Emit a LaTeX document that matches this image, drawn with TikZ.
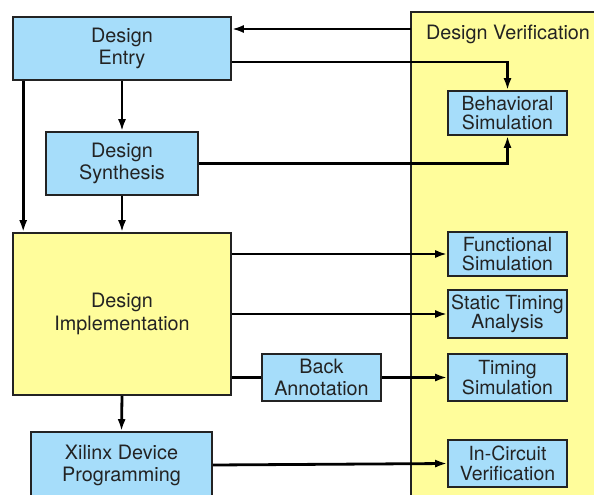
\documentclass[tikz,border=0pt]{standalone}
\usepackage{fontspec}
\setmainfont{TeX Gyre Heros}
\usetikzlibrary{arrows.meta}
\definecolor{boxblue}{HTML}{A6DDFA}
\definecolor{boxyellow}{HTML}{FFFD9B}
\definecolor{inkgray}{HTML}{232323}
\begin{document}
\begin{tikzpicture}[x=1pt, y=-1pt,
  stage/.style={draw=inkgray, line width=1.6pt, fill=boxblue, align=center,
    inner sep=0pt, text=inkgray, font=\fontsize{19.8}{22}\selectfont},
  bigstage/.style={stage, fill=boxyellow, font=\fontsize{19.8}{23}\selectfont},
  check/.style={stage, font=\fontsize{19.5}{19.5}\selectfont,
    minimum width=119pt},
  flow/.style={draw=black, line width=2.8pt, -{Latex[length=12pt,width=8pt]}},
  link/.style={draw=black, line width=2.8pt}]
  \useasboundingbox (0,0) rectangle (594,495);
  % verification panel
  \node[draw=inkgray, line width=1.6pt, fill=boxyellow, inner sep=0pt,
    minimum width=190pt, minimum height=490pt] (verif) at (506,257) {};
  \node[text=inkgray, font=\fontsize{19.8}{22}\selectfont] (vtitle) at (508,34) {Design Verification};
  % design flow
  \node[stage, minimum width=218pt, minimum height=63pt] (entry) at (122,48.5) {Design\\Entry};
  \node[stage, minimum width=152pt, minimum height=63pt] (synth) at (122,163.5) {Design\\Synthesis};
  \node[bigstage, minimum width=218pt, minimum height=162pt] (impl) at (122,314) {Design\\Implementation};
  \node[stage, minimum width=181pt, minimum height=66pt] (prog) at (121.5,465) {Xilinx Device\\Programming};
  \node[stage, minimum width=119pt, minimum height=47pt] (back) at (321.5,377.5) {Back\\Annotation};
  % checks
  \node[check, minimum height=44pt] (behav) at (507.5,113) {Behavioral\\Simulation};
  \node[check, minimum height=44pt] (func) at (507.5,254) {Functional\\Simulation};
  \node[check, minimum height=48pt] (sta) at (507.5,314) {Static Timing\\Analysis};
  \node[check, minimum height=47pt] (tsim) at (507.5,377.5) {Timing\\Simulation};
  \node[check, minimum height=47pt] (icv) at (507.5,463.5) {In-Circuit\\Verification};
  % connectors
  \coordinate (fb) at (411,29);
  \draw[flow] (fb) -- (fb -| entry.east);
  \draw[flow] ([yshift=-13.5pt]entry.east) -| (behav.north);
  \draw[flow] (synth.east) -| (behav.south);
  \draw[flow] (entry.south) -- (synth.north);
  \draw[flow] ([xshift=11pt]entry.south west) -- ([xshift=11pt]impl.north west);
  \draw[flow] (synth.south) -- (impl.north);
  \draw[flow] (impl.east |- func.west) -- (func.west);
  \draw[flow] (impl.east |- sta.west) -- (sta.west);
  \draw[link] (impl.east |- back.west) -- (back.west);
  \draw[flow] (back.east) -- (tsim.west);
  \draw[flow] (impl.south) -- (prog.north);
  \draw[flow] (prog.east) -- (icv.west);
\end{tikzpicture}
\end{document}
